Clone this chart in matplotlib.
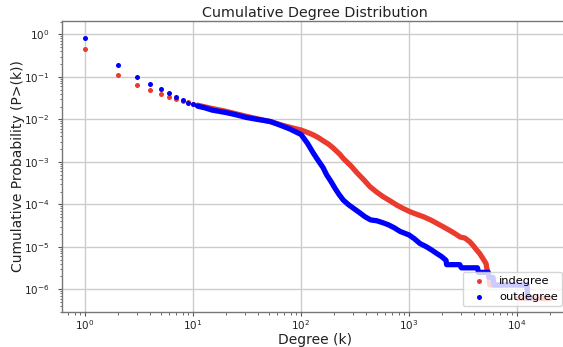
import matplotlib
matplotlib.use("Agg")
import matplotlib.pyplot as plt

plt.rcParams["axes.unicode_minus"] = False

# ---- data ----
head_k = [1, 2, 3, 4, 5, 6, 7, 8, 9, 10]
in_head_p = [0.44, 0.108, 0.065, 0.048, 0.039, 0.034, 0.030, 0.027, 0.025, 0.023]
out_head_p = [0.82, 0.195, 0.098, 0.067, 0.051, 0.041, 0.034, 0.028, 0.0245, 0.0225]

in_k = [11, 13, 15, 20, 25, 31, 40, 52, 64, 79, 100, 115, 130, 145, 161, 180, 199,
        229, 246, 290, 328, 380, 435, 500, 578, 670, 769, 880, 1020, 1180, 1360,
        1580, 1800, 2100, 2400, 2700, 2970, 3300, 3670, 3950, 4230, 4500, 4700,
        4950, 5170, 5250, 5400, 5500, 5600, 6900]
in_p = [0.0215, 0.0195, 0.018, 0.0155, 0.0135, 0.0118, 0.0102, 0.0088, 0.0075,
        0.0065, 0.0056, 0.0049, 0.0043, 0.0037, 0.0031, 0.0026, 0.0021, 0.0015,
        0.0012, 8.0e-4, 5.6e-4, 3.8e-4, 2.6e-4, 1.95e-4, 1.5e-4, 1.2e-4, 9.6e-5,
        8.0e-5, 6.7e-5, 5.8e-5, 5.1e-5, 4.3e-5, 3.6e-5, 2.9e-5, 2.4e-5, 2.0e-5,
        1.7e-5, 1.6e-5, 1.3e-5, 1.05e-5, 8.4e-6, 7.0e-6, 5.9e-6, 4.8e-6, 4.0e-6,
        3.1e-6, 2.5e-6, 1.9e-6, 1.26e-6, 1.26e-6]
in_tail_k = [10000, 20000]
in_tail_p = [6.3e-7, 6.3e-7]

out_k = [11, 13, 15, 20, 25, 31, 40, 52, 64, 79, 100, 115, 130, 145, 160, 173,
         190, 206, 225, 246, 275, 305, 350, 391, 440, 502, 570, 643, 730, 826,
         1000, 1120, 1260, 1450, 1620, 1800, 2000, 2200, 2230, 2950, 3050, 4300,
         4400, 5400, 5500, 6000, 6100, 12400, 12500, 13300]
out_p = [0.0205, 0.0185, 0.0165, 0.0145, 0.0128, 0.0111, 0.0099, 0.0089, 0.0073,
         0.0059, 0.0044, 0.0027, 0.0016, 0.00105, 7.3e-4, 4.9e-4, 3.4e-4, 2.4e-4,
         1.7e-4, 1.26e-4, 9.8e-5, 8.1e-5, 6.3e-5, 5.1e-5, 4.3e-5, 4.1e-5, 3.7e-5,
         3.3e-5, 2.8e-5, 2.3e-5, 1.9e-5, 1.55e-5, 1.2e-5, 1.0e-5, 8.4e-6, 7.0e-6,
         5.9e-6, 4.8e-6, 3.8e-6, 3.8e-6, 3.2e-6, 3.2e-6, 2.5e-6, 2.5e-6, 1.9e-6,
         1.9e-6, 1.26e-6, 1.26e-6, 6.3e-7, 6.3e-7]

labels = ["indegree", "outdegree"]
title = "Cumulative Degree Distribution"
xlabel = "Degree (k)"
ylabel = "Cumulative Probability (P>(k))"

RED = "#ea3b2e"
BLUE = "#0000ff"

fig = plt.figure(figsize=(5.63, 3.47), dpi=100)
ax = fig.add_axes([62 / 563, 35 / 347, 506 / 563, 291 / 347])
ax.set_xscale("log")
ax.set_yscale("log")

lw = 3.8
line_kw = dict(lw=lw, solid_capstyle="round", solid_joinstyle="round")

ax.scatter(head_k, in_head_p, s=13, color=RED, label=labels[0], zorder=2, linewidths=0)
ax.plot(in_k, in_p, color=RED, zorder=2, **line_kw)
ax.plot(in_tail_k, in_tail_p, color=RED, zorder=2, **line_kw)

ax.scatter(head_k, out_head_p, s=13, color=BLUE, label=labels[1], zorder=3, linewidths=0)
ax.plot(out_k, out_p, color=BLUE, zorder=3, **line_kw)

ax.set_xlim(0.612, 29650)
ax.set_ylim(2.92e-7, 2.06)

ax.grid(True, which="major", color="#cccccc", lw=1.0)
ax.set_axisbelow(True)
for s in ax.spines.values():
    s.set_color("#777777")
    s.set_linewidth(1.0)
ax.tick_params(which="both", colors="#555555", labelcolor="#222222")
ax.tick_params(axis="x", which="major", length=3, pad=1.5, labelsize=7.5)
ax.tick_params(axis="x", which="minor", length=2)
ax.tick_params(axis="y", which="major", length=3, pad=6, labelsize=7.5)
ax.tick_params(axis="y", which="minor", length=1.5)

ax.set_title(title, fontsize=10.3, pad=3, color="#222222")
ax.set_xlabel(xlabel, fontsize=10, labelpad=1, color="#222222")
ax.set_ylabel(ylabel, fontsize=10, labelpad=-0.5, color="#222222")

ax.legend(loc="lower right", fontsize=8.2, framealpha=0.8)

fig.savefig("out.png", dpi=100)
